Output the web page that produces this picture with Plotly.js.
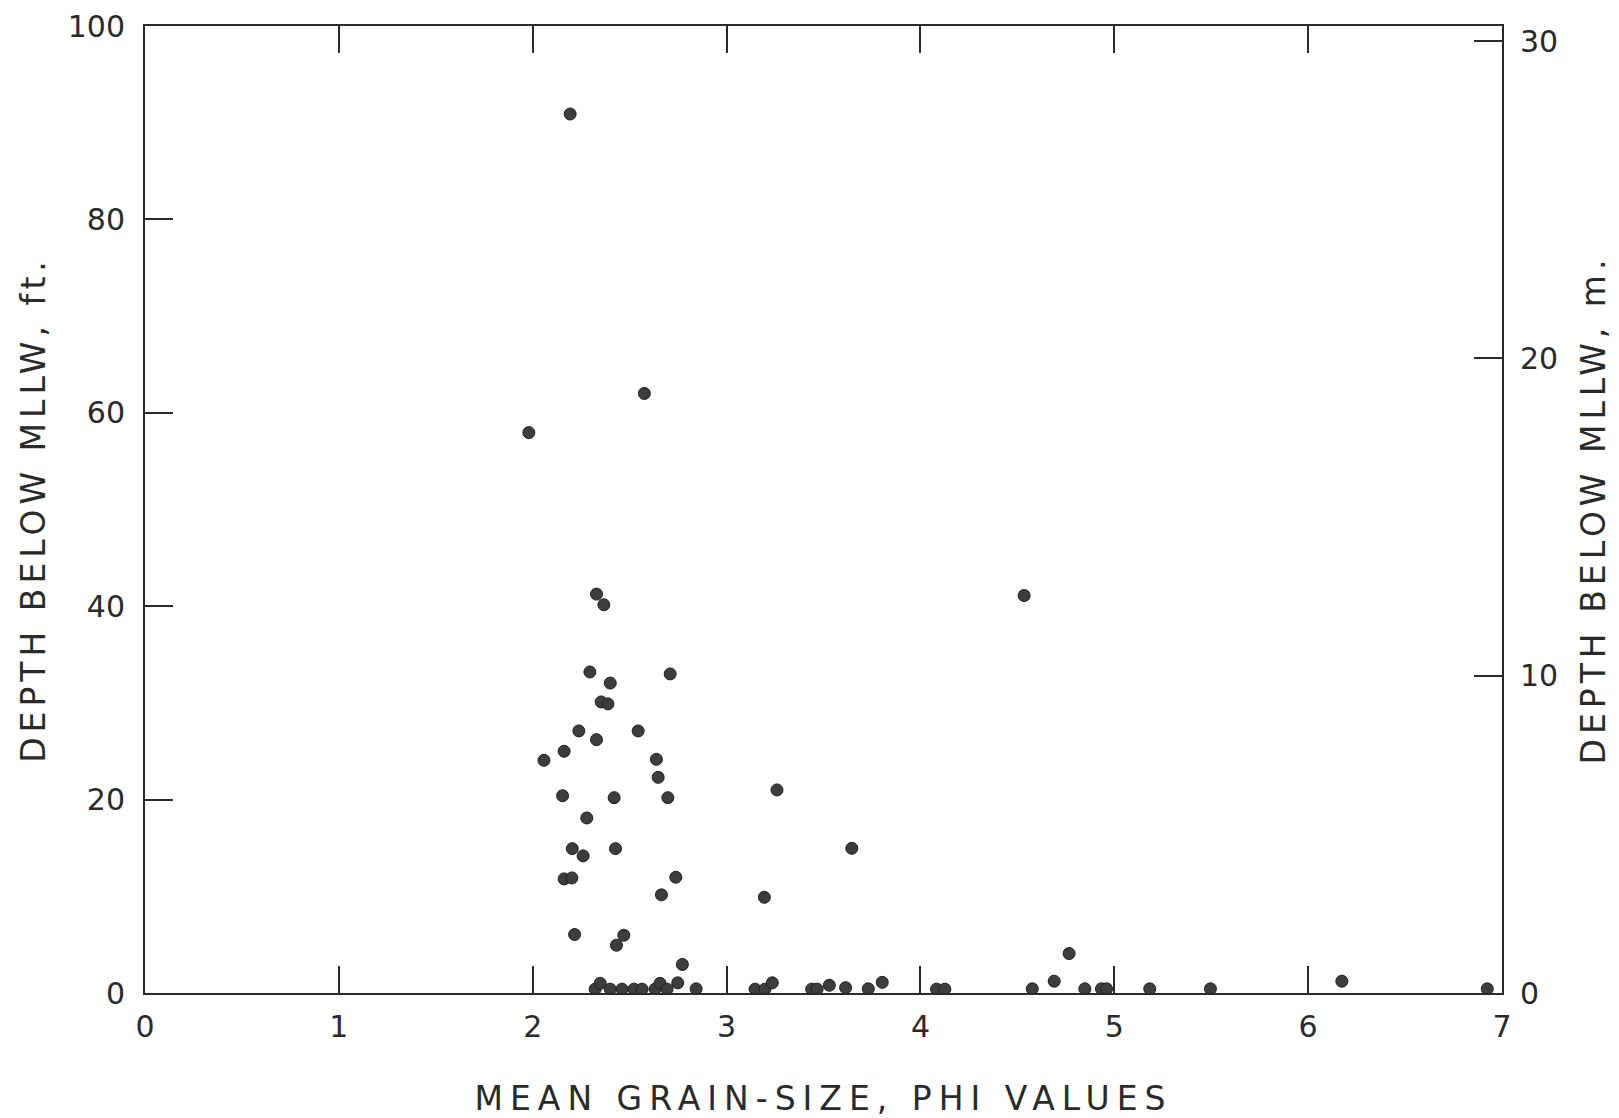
<!DOCTYPE html>
<html>
<head>
<meta charset="utf-8">
<script src="https://cdn.plot.ly/plotly-3.0.1.min.js"></script>
<style>
  html, body { margin: 0; padding: 0; background: #fff; }
  #chart { width: 1619px; height: 1118px; }
  .xtitle { letter-spacing: 7px; }
  .ytitle, .y2title { letter-spacing: 5px; }
</style>
</head>
<body>
<div id="chart"></div>
<script>
// Mean grain size (phi) for each sample
const phiValues = [
  2.193, 1.980, 2.576, 2.329, 2.367, 4.535, 2.295, 2.709, 2.400, 2.353,
  2.388, 2.238, 2.329, 2.544, 2.162, 2.058, 2.638, 2.647, 3.260, 2.154,
  2.420, 2.697, 2.279, 2.204, 2.260, 2.427, 3.646, 2.162, 2.202, 2.738,
  2.664, 3.195, 2.216, 2.470, 2.432, 4.767, 2.772, 2.748, 2.843, 2.322,
  2.348, 2.400, 2.461, 2.523, 2.564, 2.631, 2.657, 2.693, 3.147, 3.198,
  3.236, 3.439, 3.467, 3.530, 3.614, 3.731, 3.803, 4.083, 4.126, 4.577,
  4.690, 4.848, 4.934, 4.960, 5.183, 5.496, 6.174, 6.924
];
// Depth below MLLW, feet
const depthFt = [
  90.9, 57.95, 62.0, 41.25, 40.15, 41.1, 33.2, 33.0, 32.05, 30.1,
  29.9, 27.1, 26.2, 27.1, 25.0, 24.06, 24.16, 22.3, 21.0, 20.4,
  20.2, 20.2, 18.1, 14.93, 14.18, 14.93, 14.96, 11.8, 11.9, 11.97,
  10.15, 9.9, 6.05, 5.97, 4.94, 4.08, 2.95, 1.05, 0.43, 0.4,
  1.0, 0.4, 0.4, 0.4, 0.4, 0.4, 1.0, 0.4, 0.4, 0.4,
  1.05, 0.4, 0.4, 0.8, 0.55, 0.43, 1.1, 0.4, 0.4, 0.43,
  1.22, 0.43, 0.43, 0.43, 0.43, 0.43, 1.22, 0.43
];
const FT_TO_M = 0.3048;
const depthM = depthFt.map(d => d * FT_TO_M);

const xTicks = [0, 1, 2, 3, 4, 5, 6, 7];
const xTickLabels = ['0', '1', '2', '3', '4', '5', '6', '7'];
const yTicksFt = [0, 20, 40, 60, 80, 100];
const yTicksM = [0, 10, 20, 30];

const font = 'DejaVu Sans, Arial, sans-serif';
const ink = '#2a2a2a';
const pad = '\u00a0\u00a0\u00a0\u00a0\u00a0\u00a0';

const traces = [
  {
    x: phiValues, y: depthFt, type: 'scatter', mode: 'markers',
    xaxis: 'x', yaxis: 'y',
    marker: { size: 12, color: '#3d3d3d', line: { color: '#1e1e1e', width: 1 } },
    hoverinfo: 'x+y', showlegend: false
  },
  {
    x: phiValues, y: depthM, type: 'scatter', mode: 'markers',
    xaxis: 'x', yaxis: 'y2',
    marker: { size: 12, color: 'rgba(0,0,0,0)' },
    hoverinfo: 'skip', showlegend: false
  }
];

const layout = {
  width: 1619, height: 1118,
  paper_bgcolor: '#fff', plot_bgcolor: '#fff',
  margin: { l: 145, r: 117, t: 26, b: 125 },
  showlegend: false,
  font: { family: font, color: ink, size: 30 },
  xaxis: {
    range: [0, 7], tickvals: xTicks, ticktext: xTickLabels,
    ticks: 'inside', ticklen: 27, tickwidth: 2, tickcolor: ink,
    showline: true, linecolor: ink, linewidth: 2, mirror: 'ticks',
    showgrid: false, zeroline: false, ticklabelstandoff: 6,
    tickfont: { family: font, size: 30, color: ink },
    title: { text: 'MEAN GRAIN-SIZE, PHI VALUES', standoff: 44,
             font: { family: font, size: 33, color: ink } }
  },
  yaxis: {
    range: [0, 100], tickvals: yTicksFt,
    ticks: 'inside', ticklen: 28, tickwidth: 2, tickcolor: ink,
    showline: true, linecolor: ink, linewidth: 2, mirror: false,
    showgrid: false, zeroline: false, ticklabelstandoff: 12,
    tickfont: { family: font, size: 30, color: ink },
    title: { text: 'DEPTH BELOW MLLW, ft.' + pad, standoff: 12,
             font: { family: font, size: 33, color: ink } }
  },
  yaxis2: {
    overlaying: 'y', side: 'right',
    range: [0, 100 * FT_TO_M], tickvals: yTicksM,
    ticks: 'inside', ticklen: 28, tickwidth: 2, tickcolor: ink,
    showline: true, linecolor: ink, linewidth: 2,
    showgrid: false, zeroline: false, ticklabelstandoff: 10,
    tickfont: { family: font, size: 30, color: ink },
    title: { text: 'DEPTH BELOW MLLW, m.' + pad, standoff: 25,
             font: { family: font, size: 33, color: ink } }
  }
};

Plotly.newPlot('chart', traces, layout, { displayModeBar: false, staticPlot: true });
</script>
</body>
</html>
